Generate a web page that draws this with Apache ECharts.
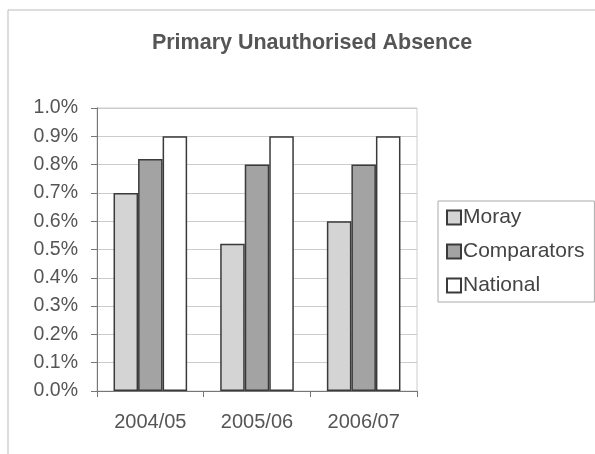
<!DOCTYPE html>
<html>
<head>
<meta charset="utf-8">
<script src="https://cdn.jsdelivr.net/npm/echarts@6/dist/echarts.min.js"></script>
<style>
  html, body { margin: 0; padding: 0; background: #fff; }
  #chart { width: 595px; height: 454px; }
</style>
</head>
<body>
<div id="chart"></div>
<script>
const years = ['2004/05', '2005/06', '2006/07']
const moray = [0.70, 0.52, 0.60]
const comparators = [0.82, 0.80, 0.80]
const national = [0.90, 0.90, 0.90]

const chart = echarts.init(document.getElementById('chart'))
const font = 'Liberation Sans, Arial, sans-serif'
const border = { borderColor: '#3a3a3a', borderWidth: 1.5 }

function bar(name, data, color) {
  return {
    name,
    type: 'bar',
    data,
    barGap: '0%',
    barCategoryGap: '31%',
    itemStyle: Object.assign({ color }, border)
  }
}

chart.setOption({
  animation: false,
  backgroundColor: '#fff',
  graphic: [{
    type: 'rect',
    shape: { x: 8, y: 10, width: 600, height: 460 },
    style: { fill: 'none', stroke: '#bbb', lineWidth: 1 }
  }],
  title: {
    text: 'Primary Unauthorised Absence',
    left: 307,
    textAlign: 'center',
    top: 27,
    textStyle: { fontFamily: font, fontSize: 21.5, fontWeight: 'bold', color: '#555' }
  },
  legend: {
    orient: 'vertical',
    left: 438,
    top: 201,
    itemWidth: 14,
    itemHeight: 14,
    itemGap: 13,
    icon: 'rect',
    padding: [6, 10, 6, 8],
    borderColor: '#aaa',
    borderWidth: 1,
    textStyle: { fontFamily: font, fontSize: 21, color: '#444', padding: [0, 0, 0, -3] },
    data: ['Moray', 'Comparators', 'National']
  },
  grid: {
    left: 97, right: 178, top: 108, bottom: 63,
    show: true, borderColor: '#cccccc', borderWidth: 1
  },
  xAxis: {
    type: 'category',
    data: years,
    axisLine: { lineStyle: { color: '#777', width: 1 } },
    axisTick: { show: true, length: 6, lineStyle: { color: '#777' } },
    axisLabel: { fontFamily: font, fontSize: 20, color: '#555', margin: 21 }
  },
  yAxis: {
    type: 'value',
    min: 0,
    max: 1.0,
    interval: 0.1,
    axisLine: { show: true, lineStyle: { color: '#777', width: 1 } },
    axisTick: { show: true, length: 6, lineStyle: { color: '#777' } },
    splitLine: { lineStyle: { color: '#cccccc', width: 1 } },
    axisLabel: {
      fontFamily: font, fontSize: 19.5, color: '#555', margin: 19,
      formatter: v => v.toFixed(1) + '%'
    }
  },
  series: [
    bar('Moray', moray, '#d4d4d4'),
    bar('Comparators', comparators, '#a3a3a3'),
    bar('National', national, '#ffffff')
  ]
})
</script>
</body>
</html>
